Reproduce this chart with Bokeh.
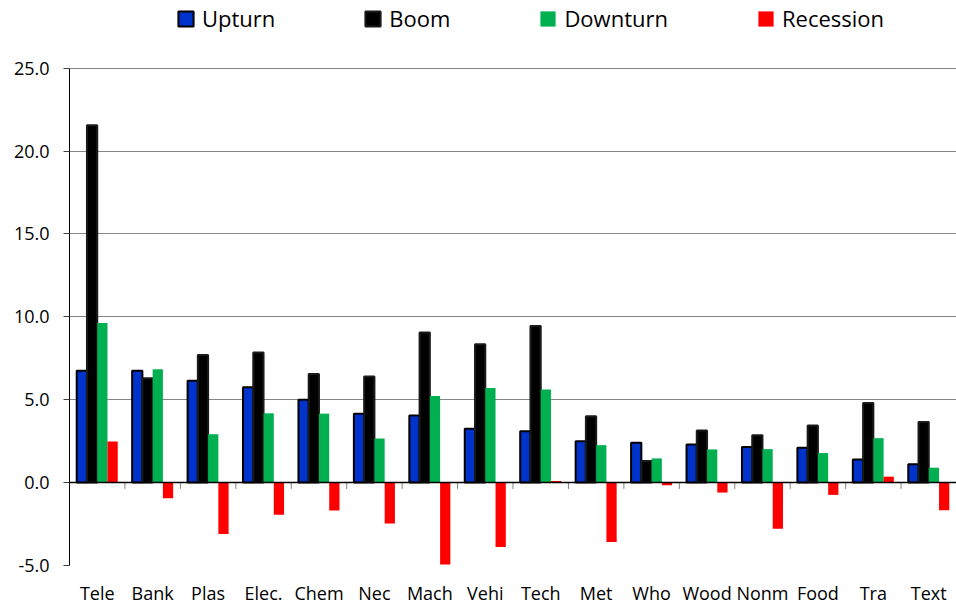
from bokeh.plotting import figure
from bokeh.models import (ColumnDataSource, FactorRange, Range1d, Span, Legend, LegendItem,
                          FixedTicker, NumeralTickFormatter)
from bokeh.transform import dodge
from bokeh.embed import file_html
from bokeh.resources import INLINE

categories = ["Tele", "Bank", "Plas", "Elec.", "Chem", "Nec", "Mach", "Vehi", "Tech", "Met",
              "Who", "Wood", "Nonm", "Food", "Tra", "Text"]
upturn = [6.75, 6.75, 6.15, 5.75, 5.0, 4.15, 4.05, 3.25, 3.1, 2.5, 2.4, 2.3, 2.15, 2.1, 1.4, 1.1]
boom = [21.55, 6.3, 7.7, 7.85, 6.55, 6.4, 9.05, 8.35, 9.45, 4.0, 1.3, 3.15, 2.85, 3.45, 4.8, 3.65]
downturn = [9.62, 6.84, 2.92, 4.18, 4.16, 2.66, 5.22, 5.7, 5.62, 2.26, 1.46, 2.0, 2.02, 1.78, 2.68, 0.9]
recession = [2.48, -0.94, -3.1, -1.94, -1.68, -2.46, -4.94, -3.88, 0.1, -3.58, -0.16, -0.6, -2.78,
             -0.74, 0.36, -1.66]
y_ticks = [-5, 0, 5, 10, 15, 20, 25]
series_names = ["Upturn", "Boom", "Downturn", "Recession"]

FONT = "Open Sans"

src = ColumnDataSource(dict(cat=categories, upturn=upturn, boom=boom,
                            downturn=downturn, recession=recession))

# the frame runs to the top of the canvas so that the legend can sit above the 25.0 line
PLOT_H = 500          # pixels between -5 and 25
TOP_SPACE = 68        # pixels above the 25 line
y_lo, y_hi = y_ticks[0], y_ticks[-1]
y_top = y_hi + TOP_SPACE * (y_hi - y_lo) / PLOT_H

p = figure(x_range=FactorRange(*categories, range_padding=0), y_range=Range1d(y_lo, y_top),
           width=956, height=607, output_backend="svg", toolbar_location=None,
           min_border_left=69, min_border_right=0, min_border_top=0, min_border_bottom=39)
p.outline_line_color = None
p.background_fill_color = "white"

bw = 0.185
offs = [-0.2775, -0.0925, 0.0925, 0.2775]
fills = ["#0033CC", "#000000", "#00B050", "#FF0000"]
lines = ["#000000", "#1a1a1a", None, None]
cols = ["upturn", "boom", "downturn", "recession"]
renderers = []
for col, off, fc, lc in zip(cols, offs, fills, lines):
    r = p.vbar(x=dodge("cat", off, range=p.x_range), top=col, bottom=0, width=bw, source=src,
               fill_color=fc, line_color=lc, line_width=2 if lc else 0)
    renderers.append(r)

# zero line
p.add_layout(Span(location=0, dimension="width", line_color="black", line_width=1.5))

# category separator ticks hanging from the zero line
bounds = list(range(1, len(categories) + 1))
p.segment(x0=bounds, y0=[0] * len(bounds), x1=bounds, y1=[-0.38] * len(bounds),
          line_color="#808080", line_width=1)

# axes
p.yaxis.ticker = FixedTicker(ticks=y_ticks)
p.yaxis.bounds = (y_lo, y_hi)
p.yaxis.formatter = NumeralTickFormatter(format="0.0")
p.yaxis.axis_line_color = "black"
p.yaxis.major_tick_out = 6
p.yaxis.major_tick_in = 0
p.yaxis.major_tick_line_color = "#404040"
p.yaxis.minor_tick_line_color = None
p.yaxis.major_label_standoff = 14
p.yaxis.major_label_text_font = FONT
p.yaxis.major_label_text_font_size = "18px"
p.yaxis.major_label_text_color = "black"

p.xaxis.axis_line_color = None
p.xaxis.major_tick_line_color = None
p.xaxis.minor_tick_line_color = None
p.xaxis.major_tick_out = 0
p.xaxis.major_tick_in = 0
p.xaxis.major_label_standoff = 15
p.xaxis.major_label_text_line_height = 0.75
p.xaxis.major_label_text_font = FONT
p.xaxis.major_label_text_font_size = "18px"
p.xaxis.major_label_text_color = "black"

p.xgrid.grid_line_color = None
p.ygrid.grid_line_color = "#868686"
p.ygrid.grid_line_width = 1
p.ygrid.ticker = FixedTicker(ticks=y_ticks)

legend = Legend(items=[LegendItem(label=n, renderers=[r]) for n, r in zip(series_names, renderers)],
                orientation="horizontal", location=(107, 532),
                label_text_font=FONT, label_text_font_size="22px", label_text_color="black",
                glyph_width=19, glyph_height=19, label_standoff=7, spacing=88,
                padding=0, margin=0, border_line_color=None, background_fill_alpha=0)
p.add_layout(legend, "center")

open("out.html", "w").write(file_html(p, INLINE))
